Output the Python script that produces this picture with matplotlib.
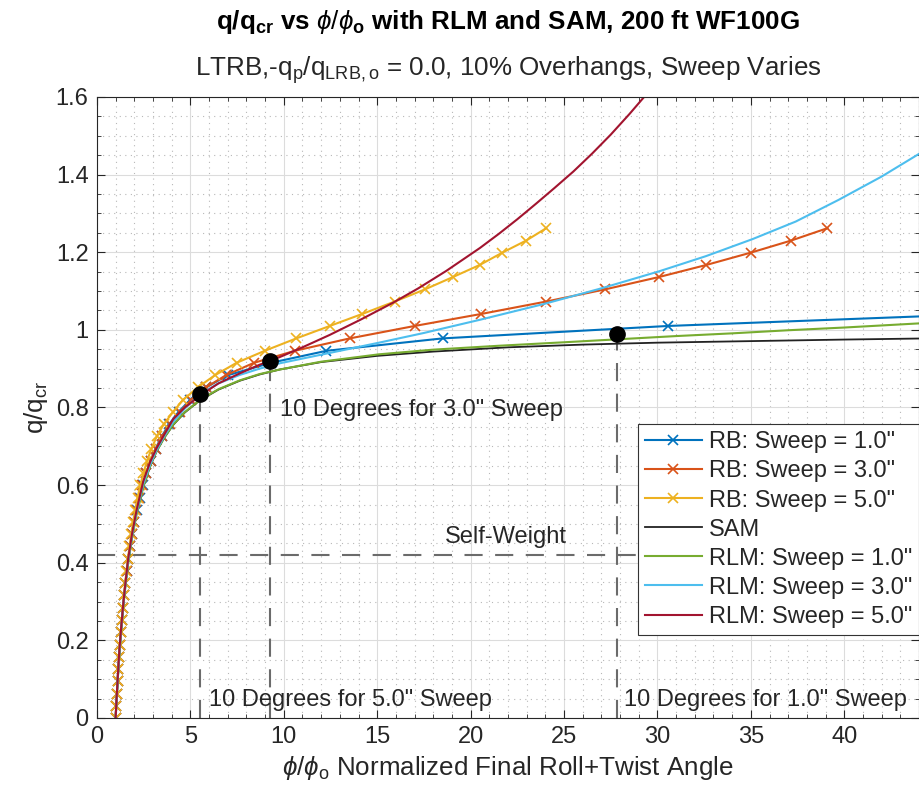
import matplotlib
matplotlib.use("Agg")
import matplotlib.pyplot as plt
from matplotlib.ticker import MultipleLocator

plt.rcParams['font.family'] = ['Liberation Sans', 'DejaVu Sans']
plt.rcParams['mathtext.fontset'] = 'custom'
plt.rcParams['mathtext.rm'] = 'Liberation Sans'
plt.rcParams['mathtext.it'] = 'Liberation Sans:italic'
plt.rcParams['mathtext.bf'] = 'Liberation Sans:bold'

# load levels shared by the RB analyses (q/qcr)
rb_q = [0.000, 0.032, 0.063, 0.095, 0.126, 0.158, 0.189, 0.221, 0.252, 0.284,
        0.316, 0.347, 0.379, 0.410, 0.442, 0.473, 0.505, 0.536, 0.568, 0.599,
        0.631, 0.663, 0.694, 0.726, 0.757, 0.789, 0.820, 0.852, 0.883, 0.915,
        0.946, 0.978, 1.010, 1.041, 1.073, 1.104, 1.136, 1.167, 1.199, 1.230,
        1.262]

# RB roll+twist ratios at each level
rb1_phi = [1.000, 1.033, 1.067, 1.104, 1.143, 1.186, 1.232, 1.281, 1.335, 1.393,
           1.456, 1.525, 1.600, 1.684, 1.777, 1.882, 1.998, 2.130, 2.278, 2.450,
           2.640, 2.870, 3.140, 3.470, 3.870, 4.370, 5.000, 5.850, 7.000, 9.300,
           12.28, 18.50, 30.55, 47.50]
rb3_phi = [1.000, 1.033, 1.066, 1.104, 1.143, 1.185, 1.231, 1.279, 1.333, 1.390,
           1.452, 1.520, 1.594, 1.676, 1.768, 1.871, 1.985, 2.115, 2.260, 2.430,
           2.640, 2.880, 3.160, 3.500, 3.920, 4.430, 5.050, 5.850, 6.900, 8.400,
           10.59, 13.53, 17.00, 20.57, 24.05, 27.17, 30.07, 32.60, 35.00, 37.15,
           39.10]
rb5_phi = [1.000, 1.033, 1.066, 1.103, 1.141, 1.183, 1.228, 1.276, 1.329, 1.387,
           1.446, 1.512, 1.579, 1.655, 1.741, 1.829, 1.929, 2.047, 2.174, 2.317,
           2.490, 2.684, 2.919, 3.206, 3.580, 4.080, 4.620, 5.400, 6.310, 7.470,
           8.980, 10.67, 12.46, 14.20, 15.94, 17.54, 19.05, 20.48, 21.70, 22.97,
           24.05]

# SAM curve
sam_phi = [1.0, 1.05, 1.12, 1.2, 1.3, 1.41, 1.53, 1.67, 1.88, 2.12, 2.48, 2.85,
           3.19, 3.6, 4.08, 4.7, 5.5, 6.5, 7.65, 8.7, 9.8, 12.0, 15.0, 18.0,
           22.0, 26.0, 30.0, 35.0, 40.0, 44.5]
sam_q = [0.0, 0.048, 0.107, 0.167, 0.231, 0.291, 0.346, 0.401, 0.468, 0.528,
         0.597, 0.649, 0.687, 0.722, 0.755, 0.787, 0.818, 0.846, 0.869, 0.885,
         0.898, 0.917, 0.933, 0.944, 0.955, 0.962, 0.967, 0.971, 0.975, 0.978]

# RLM curves
rlm1_phi = [1.0, 1.05, 1.12, 1.2, 1.3, 1.41, 1.53, 1.67, 1.88, 2.12, 2.48, 2.85,
            3.19, 3.6, 4.08, 4.7, 5.5, 6.5, 7.65, 8.7, 9.8, 12.0, 15.1, 18.0,
            21.5, 25.0, 28.0, 31.0, 34.0, 37.0, 40.0, 44.5]
rlm1_q = [0.0, 0.046, 0.104, 0.163, 0.226, 0.287, 0.342, 0.398, 0.465, 0.524,
          0.595, 0.65, 0.687, 0.722, 0.756, 0.788, 0.819, 0.847, 0.870, 0.886,
          0.898, 0.918, 0.937, 0.949, 0.959, 0.968, 0.976, 0.984, 0.991, 0.999,
          1.006, 1.018]

rlm3_phi = [1.0, 1.05, 1.12, 1.2, 1.3, 1.41, 1.53, 1.67, 1.88, 2.12, 2.48, 2.85,
            3.19, 3.6, 4.08, 4.7, 5.5, 6.5, 7.65, 8.7, 9.8, 11.5, 13.2, 15.1,
            17.5, 20.5, 23.87, 27.0, 30.1, 32.6, 35.1, 37.4, 39.7, 42.0, 44.5]
rlm3_q = [0.0, 0.048, 0.107, 0.168, 0.232, 0.292, 0.347, 0.405, 0.47, 0.53,
          0.603, 0.653, 0.69, 0.726, 0.763, 0.797, 0.834, 0.862, 0.884, 0.90,
          0.914, 0.931, 0.948, 0.967, 0.992, 1.026, 1.066, 1.107, 1.151, 1.190,
          1.234, 1.279, 1.335, 1.395, 1.468]

rlm5_phi = [1.0, 1.05, 1.12, 1.2, 1.3, 1.41, 1.53, 1.67, 1.88, 2.12, 2.48, 2.85,
            3.19, 3.6, 4.08, 4.7, 5.5, 6.5, 7.65, 8.7, 9.79, 11.0, 12.46, 14.1,
            15.85, 17.2, 18.7, 20.5, 21.5, 22.5, 23.5, 24.5, 25.5, 26.5, 27.5,
            28.5, 29.5, 30.5]
rlm5_q = [0.0, 0.05, 0.11, 0.175, 0.235, 0.295, 0.35, 0.41, 0.475, 0.535,
          0.61, 0.66, 0.695, 0.73, 0.77, 0.80, 0.83, 0.862, 0.888, 0.91,
          0.93, 0.955, 0.987, 1.026, 1.070, 1.107, 1.152, 1.211, 1.247, 1.285,
          1.325, 1.366, 1.408, 1.454, 1.503, 1.556, 1.612, 1.672]

# 10 degree points for each sweep, and self-weight level
ten_deg_phi = [5.5, 9.25, 27.85]
ten_deg_q = [0.835, 0.921, 0.989]
self_weight = 0.42

blue = '#0072BD'
orange = '#D95319'
yellow = '#EDB120'
green = '#77AC30'
cyan = '#4DBEEE'
maroon = '#A2142F'
txt = '#262626'

fs = 17
fs_big = 18.7

fig = plt.figure(figsize=(9.19, 7.93), dpi=100)
ax = fig.add_axes([0.1055, 0.0946, 0.8945, 0.7831])

mk = dict(lw=1.5, ms=7, mew=1.2)
ax.plot(rb1_phi, rb_q[:len(rb1_phi)], '-x', color=blue, label='RB: Sweep = 1.0"', **mk)
ax.plot(rb3_phi, rb_q[:len(rb3_phi)], '-x', color=orange, label='RB: Sweep = 3.0"', **mk)
ax.plot(rb5_phi, rb_q[:len(rb5_phi)], '-x', color=yellow, label='RB: Sweep = 5.0"', **mk)
ax.plot(sam_phi, sam_q, '-', color='#222222', lw=1.3, label='SAM')
ax.plot(rlm1_phi, rlm1_q, '-', color=green, lw=1.5, label='RLM: Sweep = 1.0"')
ax.plot(rlm3_phi, rlm3_q, '-', color=cyan, lw=1.5, label='RLM: Sweep = 3.0"')
ax.plot(rlm5_phi, rlm5_q, '-', color=maroon, lw=1.5, label='RLM: Sweep = 5.0"')

dash = (0, (8.7, 6))
ax.axhline(self_weight, color='#6b6b6b', lw=1.5, ls=dash, zorder=1.5)
for px, pq in zip(ten_deg_phi, ten_deg_q):
    ax.plot([px, px], [0, pq], color='#6b6b6b', lw=1.5, ls=dash, zorder=1.5)
ax.plot(ten_deg_phi, ten_deg_q, 'o', color='black', ms=11, zorder=5)

ax.text(9.8, 0.794, '10 Degrees for 3.0" Sweep', fontsize=fs, color=txt, va='center')
ax.text(6.0, 0.046, '10 Degrees for 5.0" Sweep', fontsize=fs, color=txt, va='center')
ax.text(28.2, 0.046, '10 Degrees for 1.0" Sweep', fontsize=fs, color=txt, va='center')
ax.text(21.9, 0.466, 'Self-Weight', fontsize=fs, color=txt, va='center', ha='center')

ax.set_xlim(0, 44)
ax.set_ylim(0, 1.6)
ax.xaxis.set_major_locator(MultipleLocator(5))
ax.xaxis.set_minor_locator(MultipleLocator(1))
ax.yaxis.set_major_locator(MultipleLocator(0.2))
ax.yaxis.set_minor_locator(MultipleLocator(0.05))
ax.set_yticks([0, 0.2, 0.4, 0.6, 0.8, 1.0, 1.2, 1.4, 1.6])
ax.set_yticklabels(['0', '0.2', '0.4', '0.6', '0.8', '1', '1.2', '1.4', '1.6'])
ax.grid(which='major', color='#dcdcdc', lw=0.8)
ax.grid(which='minor', color='#b8b8b8', lw=0.8, ls=(0, (1, 4)))
ax.set_axisbelow(True)
ax.tick_params(which='both', direction='in', top=True, right=True, colors=txt,
               labelsize=fs, pad=6)
ax.tick_params(which='major', length=6)
ax.tick_params(which='minor', length=3)
for s in ax.spines.values():
    s.set_color(txt)
    s.set_linewidth(0.8)

ax.set_xlabel(r'$\phi/\phi_\mathrm{o}$ Normalized Final Roll+Twist Angle',
              fontsize=fs_big, color=txt, labelpad=4)
ax.set_ylabel(r'$\mathrm{q/q_{cr}}$', fontsize=fs_big, color=txt, labelpad=4)

fig.text(0.553, 0.972, r'$\mathbf{q/q_{cr}}$ vs $\phi/\phi_\mathbf{o}$ with RLM and SAM, 200 ft WF100G',
         fontsize=fs_big, fontweight='bold', ha='center', va='center', color='black')
fig.text(0.553, 0.911, r'LTRB,-$\mathrm{q_p/q_{LRB,o}}$ = 0.0, 10% Overhangs, Sweep Varies',
         fontsize=fs_big, ha='center', va='center', color=txt)

leg = ax.legend(loc='upper left', bbox_to_anchor=(0.658, 0.473), borderaxespad=0,
                fontsize=fs, frameon=True, fancybox=False, framealpha=1,
                edgecolor='#333333', handlelength=2.4, labelspacing=0.3,
                borderpad=0.3, handletextpad=0.3)
leg.get_frame().set_linewidth(0.8)
for t in leg.get_texts():
    t.set_color(txt)

fig.savefig('out.png', dpi=100)
